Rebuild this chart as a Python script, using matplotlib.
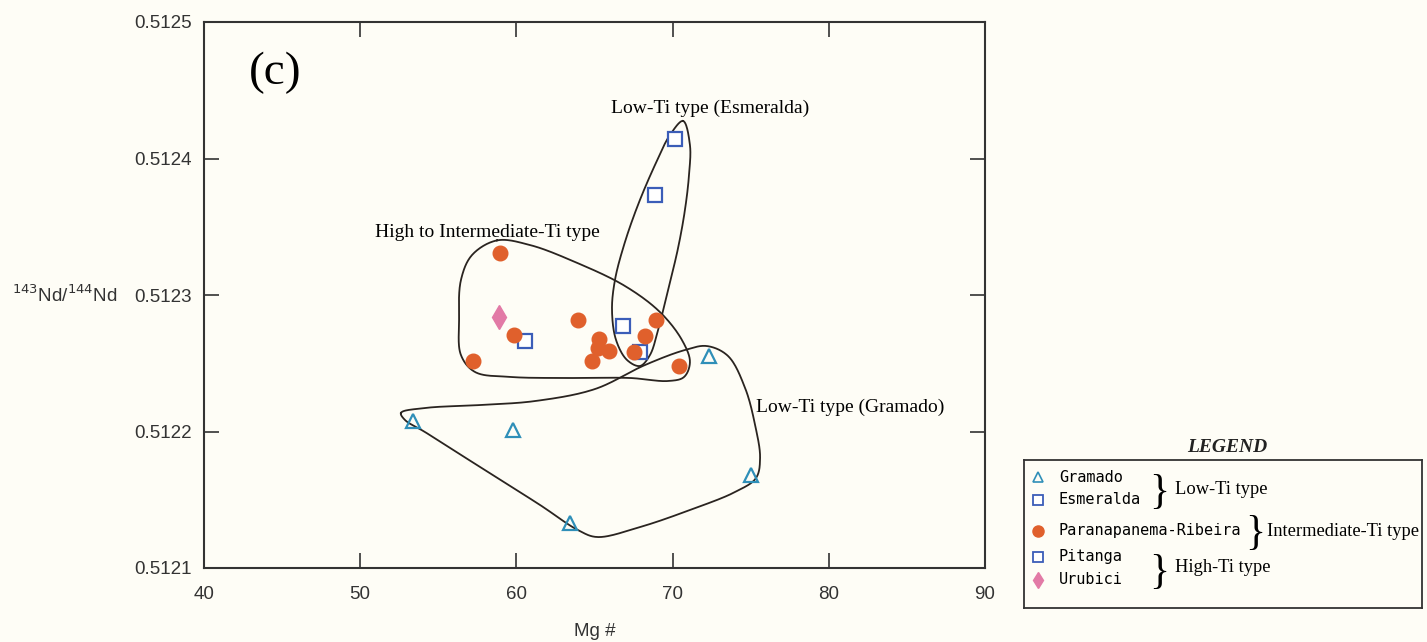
import numpy as np
import matplotlib
matplotlib.use('Agg')
import matplotlib.pyplot as plt

# --- data (Mg#, 143Nd/144Nd) ---
gramado_x = [53.4, 59.8, 63.4, 75.0, 72.3]
gramado_y = [0.512208, 0.512201, 0.512133, 0.512168, 0.512255]

esmeralda_x = [70.15, 68.9, 66.8, 67.9]
esmeralda_y = [0.512414, 0.512373, 0.512277, 0.512258]

parana_x = [58.95, 59.85, 57.2, 63.95, 65.3, 65.25, 65.9, 64.85, 67.55, 68.25, 68.95, 70.4]
parana_y = [0.512331, 0.512271, 0.512252, 0.512282, 0.512268, 0.512261,
            0.512259, 0.512252, 0.512258, 0.512270, 0.512282, 0.512248]

pitanga_x = [60.55]
pitanga_y = [0.512266]

urubici_x = [58.9]
urubici_y = [0.512284]

# envelope outlines (hand drawn fields)
env_high_x = [58.76, 60.87, 63.75, 66.95, 69.19, 70.6, 71.11, 70.73, 69.71, 67.27, 63.43, 59.59,
              57.35, 56.45, 56.33, 56.45, 57.16]
env_high_y = [0.51234, 0.5123366, 0.5123242, 0.5123066, 0.5122875, 0.512267, 0.512251, 0.5122399,
              0.512237, 0.5122392, 0.5122392, 0.51224, 0.5122436, 0.512256, 0.5122817, 0.512311,
              0.5123293]

env_esm_x = [70.67, 71.11, 71.05, 70.79, 70.35, 69.71, 69.07, 68.55, 67.91, 67.08, 66.38, 66.12,
             66.31, 66.89, 67.78, 68.87, 69.83]
env_esm_y = [0.5124275, 0.5124099, 0.5123879, 0.5123623, 0.5123344, 0.5123037, 0.5122744, 0.512256,
             0.512248, 0.5122524, 0.512267, 0.512289, 0.512311, 0.5123366, 0.5123659, 0.5123952,
             0.5124172]

env_gra_x = [52.61, 54.15, 57.67, 61.19, 65.03, 68.23, 70.79, 72.2, 73.55, 74.64, 75.28, 75.6,
             75.34, 74.0, 71.11, 67.91, 65.16, 63.94, 61.51, 57.67, 54.15, 52.87]
env_gra_y = [0.5122136, 0.5122172, 0.5122194, 0.5122223, 0.5122311, 0.5122487, 0.5122597, 0.5122626,
             0.5122553, 0.5122319, 0.5122048, 0.5121806, 0.5121659, 0.5121557, 0.5121425, 0.51213,
             0.5121227, 0.5121278, 0.5121462, 0.512174, 0.5121996, 0.5122084]

xticks = [40, 50, 60, 70, 80, 90]
yticks = [0.5121, 0.5122, 0.5123, 0.5124, 0.5125]

bg = '#fefdf6'
c_tri = '#2f8fb8'
c_sq = '#3b5db8'
c_circ = '#e0602c'
c_dia = '#e27aa6'

SX = 781 / 50.0
SY = 546 / 0.0004


def closed_curve(xs, ys, n=24):
    # centripetal Catmull-Rom, worked out in screen-like units
    P = np.column_stack([(np.array(xs) - 40) * SX, (np.array(ys) - 0.5121) * SY])
    m = len(P)
    out = []
    for i in range(m):
        p0, p1, p2, p3 = P[i - 1], P[i], P[(i + 1) % m], P[(i + 2) % m]
        t0 = 0.0
        t1 = t0 + np.linalg.norm(p1 - p0) ** 0.5
        t2 = t1 + np.linalg.norm(p2 - p1) ** 0.5
        t3 = t2 + np.linalg.norm(p3 - p2) ** 0.5
        t = np.linspace(t1, t2, n, endpoint=False)[:, None]
        a1 = (t1 - t) / (t1 - t0) * p0 + (t - t0) / (t1 - t0) * p1
        a2 = (t2 - t) / (t2 - t1) * p1 + (t - t1) / (t2 - t1) * p2
        a3 = (t3 - t) / (t3 - t2) * p2 + (t - t2) / (t3 - t2) * p3
        b1 = (t2 - t) / (t2 - t0) * a1 + (t - t0) / (t2 - t0) * a2
        b2 = (t3 - t) / (t3 - t1) * a2 + (t - t1) / (t3 - t1) * a3
        out.append((t2 - t) / (t2 - t1) * b1 + (t - t1) / (t2 - t1) * b2)
    out = np.vstack(out + [P[:1]])
    return out[:, 0] / SX + 40, out[:, 1] / SY + 0.5121


fig = plt.figure(figsize=(14.27, 6.42), dpi=100, facecolor=bg)
ax = fig.add_axes([204 / 1427, 1 - 568 / 642, 781 / 1427, 546 / 642])
ax.set_facecolor(bg)

for ex, ey in [(env_high_x, env_high_y), (env_esm_x, env_esm_y), (env_gra_x, env_gra_y)]:
    cx, cy = closed_curve(ex, ey)
    ax.plot(cx, cy, color='#2a2420', lw=1.3, zorder=2)

ax.plot(gramado_x, gramado_y, '^', ms=10, mfc='none', mec=c_tri, mew=1.6, ls='none', zorder=3)
ax.plot(esmeralda_x, esmeralda_y, 's', ms=10, mfc='white', mec=c_sq, mew=1.6, ls='none', zorder=3)
ax.plot(pitanga_x, pitanga_y, 's', ms=10, mfc='white', mec=c_sq, mew=1.6, ls='none', zorder=3)
ax.plot(parana_x, parana_y, 'o', ms=10.5, color=c_circ, mec=c_circ, ls='none', zorder=4)
ax.plot(urubici_x, urubici_y, 'd', ms=12, color=c_dia, ls='none', zorder=4)

ax.set_xlim(40, 90)
ax.set_ylim(0.5121, 0.5125)
ax.set_xticks(xticks)
ax.set_yticks(yticks)
ax.set_yticklabels(['%.4f' % v for v in yticks])
ax.tick_params(direction='in', length=11, width=1.2, top=True, right=True,
               labelsize=13.5, pad=9, colors='#333333')
ax.tick_params(axis='x', pad=13)
for lab in ax.get_xticklabels() + ax.get_yticklabels():
    lab.set_fontfamily('Liberation Sans')
for s in ax.spines.values():
    s.set_linewidth(1.5)
    s.set_color('#333333')

ax.set_xlabel('Mg #', fontsize=13.5, family='Liberation Sans', labelpad=14, color='#333333')
fig.text(65 / 1427, 1 - 295 / 642, r'$^{143}$Nd/$^{144}$Nd', fontsize=13.5, family='Liberation Sans',
         ha='center', va='center', color='#333333')

ax.text(44.55, 0.512463, '(c)', fontsize=34, family='Liberation Serif', ha='center', va='center')
ax.text(72.39, 0.512437, 'Low-Ti type (Esmeralda)', fontsize=14, family='Liberation Serif',
        ha='center', va='center')
ax.text(58.12, 0.512346, 'High to Intermediate-Ti type', fontsize=14, family='Liberation Serif',
        ha='center', va='center')
ax.text(81.36, 0.512218, 'Low-Ti type (Gramado)', fontsize=14, family='Liberation Serif',
        ha='center', va='center')

# legend box (pixel units inside the box)
lg = fig.add_axes([1024 / 1427, 1 - 608 / 642, 398 / 1427, 148 / 642])
lg.set_xlim(0, 398)
lg.set_ylim(148, 0)
lg.set_xticks([])
lg.set_yticks([])
lg.set_facecolor(bg)
for s in lg.spines.values():
    s.set_linewidth(1.3)
    s.set_color('#333333')

names = ['Gramado', 'Esmeralda', 'Paranapanema-Ribeira', 'Pitanga', 'Urubici']
rows = [17, 40, 71, 97, 120]
styles = [dict(marker='^', ms=7, mfc='none', mec=c_tri, mew=1.2),
          dict(marker='s', ms=7, mfc='white', mec=c_sq, mew=1.3),
          dict(marker='o', ms=8, mfc=c_circ, mec=c_circ),
          dict(marker='s', ms=7, mfc='white', mec=c_sq, mew=1.3),
          dict(marker='d', ms=8, mfc=c_dia, mec=c_dia)]
for nm, ry, st in zip(names, rows, styles):
    lg.plot([14], [ry], ls='none', **st)
    lg.text(35, ry, nm, fontsize=11, family='DejaVu Sans Mono', va='center', ha='left')

lg.text(135, 33, '}', fontsize=30, family='Liberation Serif', va='center', ha='center')
lg.text(151, 30, 'Low-Ti type', fontsize=13.3, family='Liberation Serif', va='center')
lg.text(231, 74, '}', fontsize=30, family='Liberation Serif', va='center', ha='center')
lg.text(243, 71, 'Intermediate-Ti type', fontsize=13.3, family='Liberation Serif', va='center')
lg.text(135, 113, '}', fontsize=30, family='Liberation Serif', va='center', ha='center')
lg.text(151, 108, 'High-Ti type', fontsize=13.3, family='Liberation Serif', va='center')

fig.text(1227 / 1427, 1 - 448 / 642, 'LEGEND', fontsize=14, family='Liberation Serif',
         weight='bold', style='italic', ha='center', va='center', color='#222222')

fig.savefig('out.png', dpi=100, facecolor=bg)
